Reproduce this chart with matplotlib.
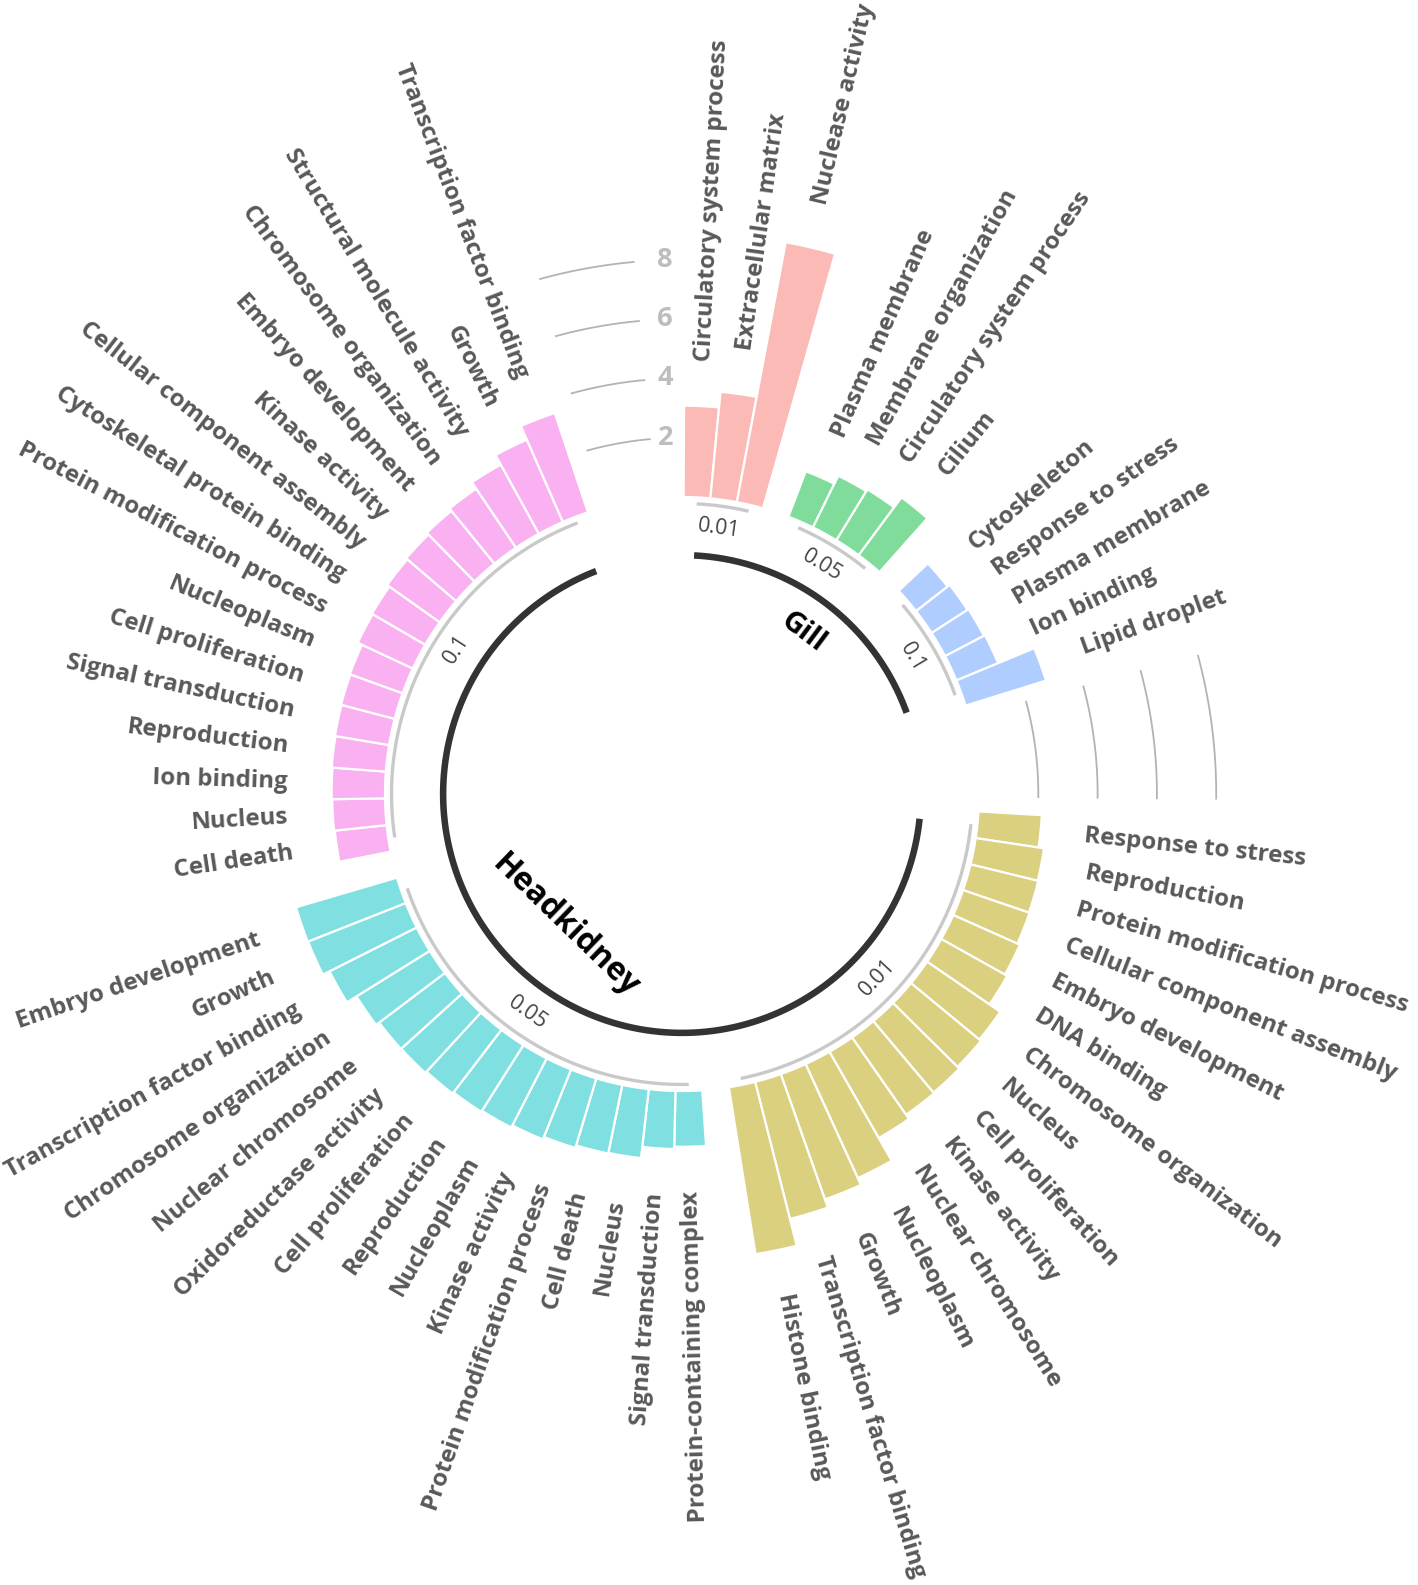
import numpy as np
import matplotlib
matplotlib.use("Agg")
import matplotlib.pyplot as plt

# ---------------- data ----------------
tissues = ["Gill", "Gill", "Gill", "Headkidney", "Headkidney", "Headkidney"]
pvalues = ["0.01", "0.05", "0.1", "0.01", "0.05", "0.1"]

gill_001_terms = ["Circulatory system process", "Extracellular matrix", "Nuclease activity"]
gill_001_values = [3.08, 3.61, 8.92]

gill_005_terms = ["Plasma membrane", "Membrane organization",
                  "Circulatory system process", "Cilium"]
gill_005_values = [1.64, 1.94, 2.01, 2.43]

gill_01_terms = ["Cytoskeleton", "Response to stress", "Plasma membrane",
                 "Ion binding", "Lipid droplet"]
gill_01_values = [1.35, 1.44, 1.48, 1.52, 2.84]

hk_001_terms = ["Response to stress", "Reproduction", "Protein modification process",
                "Cellular component assembly", "Embryo development", "DNA binding",
                "Chromosome organization", "Nucleus", "Cell proliferation",
                "Kinase activity", "Nuclear chromosome", "Nucleoplasm", "Growth",
                "Transcription factor binding", "Histone binding"]
hk_001_values = [2.14, 2.33, 2.35, 2.37, 2.46, 2.55, 2.99, 3.06, 3.15, 3.18,
                 3.35, 4.23, 4.48, 4.77, 5.70]

hk_005_terms = ["Protein-containing complex", "Signal transduction", "Nucleus",
                "Cell death", "Protein modification process", "Kinase activity",
                "Nucleoplasm", "Reproduction", "Cell proliferation",
                "Oxidoreductase activity", "Nuclear chromosome",
                "Chromosome organization", "Transcription factor binding",
                "Growth", "Embryo development"]
hk_005_values = [1.88, 1.96, 2.34, 2.36, 2.45, 2.54, 2.62, 2.66, 2.71, 2.77,
                 2.78, 2.91, 3.29, 3.54, 3.55]

hk_01_terms = ["Cell death", "Nucleus", "Ion binding", "Reproduction",
               "Signal transduction", "Cell proliferation", "Nucleoplasm",
               "Protein modification process", "Cytoskeletal protein binding",
               "Cellular component assembly", "Kinase activity",
               "Embryo development", "Chromosome organization",
               "Structural molecule activity", "Growth",
               "Transcription factor binding"]
hk_01_values = [1.76, 1.78, 1.80, 1.83, 1.85, 1.87, 1.89, 2.05, 2.08, 2.17,
                2.22, 2.30, 2.40, 2.66, 3.03, 3.53]

scale_ticks = [2, 4, 6, 8]

group_terms = [gill_001_terms, gill_005_terms, gill_01_terms,
               hk_001_terms, hk_005_terms, hk_01_terms]
group_values = [gill_001_values, gill_005_values, gill_01_values,
                hk_001_values, hk_005_values, hk_01_values]

# ---------------- style / layout ----------------
group_colors = ["#FBBAB6", "#80DC9B", "#B0CDFF", "#DBCF80", "#80DFE1", "#FAB1F1"]
gap_after = [1, 1, 4, 1, 1, 0]
slot_deg = 5.17
phase = 0.56
plabel_angles = [7.8, 31.4, 59.3, 133.2, 215.3, 302.8]
tissue_label_pos = {"Gill": (36.8, -3.2, -36.8, 21),
                    "Headkidney": (221.8, -4.1, -44.0, 23)}
grid_spans = [(344.6, 354.8), (75.0, 90.5)]

FONT = "Open Sans"
W, H, DPI = 1418, 1585, 100
fig = plt.figure(figsize=(W / DPI, H / DPI), dpi=DPI)
fig.patch.set_facecolor("white")

cx, cy = 682, 794          # centre in pixels
r0, k = 297.0, 29.65        # radius of value 0, px per unit
vmin = -r0 / k
vmax = 14.0
R = r0 + k * vmax
ax = fig.add_axes([(cx - R) / W, (H - cy - R) / H, 2 * R / W, 2 * R / H],
                  projection="polar")
ax.set_theta_zero_location("N")
ax.set_theta_direction(-1)
ax.set_ylim(vmin, vmax)
ax.axis("off")

# ---------------- bars ----------------
idx = 0
group_angles = []
for terms, vals, col, gap in zip(group_terms, group_values, group_colors, gap_after):
    ids = idx + np.arange(len(vals))
    ang = (ids + phase) * slot_deg
    group_angles.append(ang)
    ax.bar(np.deg2rad(ang), vals, width=np.deg2rad(slot_deg), bottom=0,
           color=col, edgecolor="white", linewidth=1.6, zorder=2)
    for a, v, t in zip(ang, vals, terms):
        if a < 178:
            rot, ha = 90 - a, "left"
        else:
            rot, ha = 270 - a, "right"
        ax.text(np.deg2rad(a), v + 1.5, t, rotation=rot, rotation_mode="anchor",
                ha=ha, va="center", fontsize=17.3, fontweight="bold",
                color="#595959", family=FONT)
    idx += len(vals) + gap

# ---------------- p-value arcs and labels ----------------
for ang, pv, pa in zip(group_angles, pvalues, plabel_angles):
    th = np.deg2rad(np.linspace(ang[0], ang[-1], 60))
    ax.plot(th, np.full_like(th, -0.22), color="#c9c9c9", lw=2.4,
            solid_capstyle="butt", zorder=1)
    if 90 < pa < 270:
        rot = 180 - pa
    elif pa >= 270:
        rot = 360 - pa
    else:
        rot = -pa
    ax.text(np.deg2rad(pa), -0.98, pv, rotation=rot, rotation_mode="anchor",
            ha="center", va="center", fontsize=15.5, color="#444444", family=FONT)

# ---------------- tissue arcs and labels ----------------
for tissue in ["Gill", "Headkidney"]:
    sel = [a for a, t in zip(group_angles, tissues) if t == tissue]
    a0, a1 = sel[0][0], sel[-1][-1]
    th = np.deg2rad(np.linspace(a0, a1, 300))
    ax.plot(th, np.full_like(th, -1.96), color="#333333", lw=4.7,
            solid_capstyle="butt", zorder=1)
    pa, pr, prot, fs = tissue_label_pos[tissue]
    ax.text(np.deg2rad(pa), pr, tissue, rotation=prot, rotation_mode="anchor",
            ha="center", va="center", fontsize=fs, fontweight="bold",
            color="black", family=FONT)

# ---------------- radial grid and scale ----------------
for a0, a1 in grid_spans:
    th = np.deg2rad(np.linspace(a0, a1, 60))
    for v in scale_ticks:
        ax.plot(th, np.full_like(th, v), color="#b3b3b3", lw=1.3, zorder=1)
for v in scale_ticks:
    rpx = r0 + k * v
    th = -np.arcsin(9.0 / rpx)
    ax.text(th, v, str(v), ha="right", va="center", fontsize=19.5,
            fontweight="bold", color="#bdbdbd", family=FONT)

fig.savefig("out.png", dpi=DPI)
